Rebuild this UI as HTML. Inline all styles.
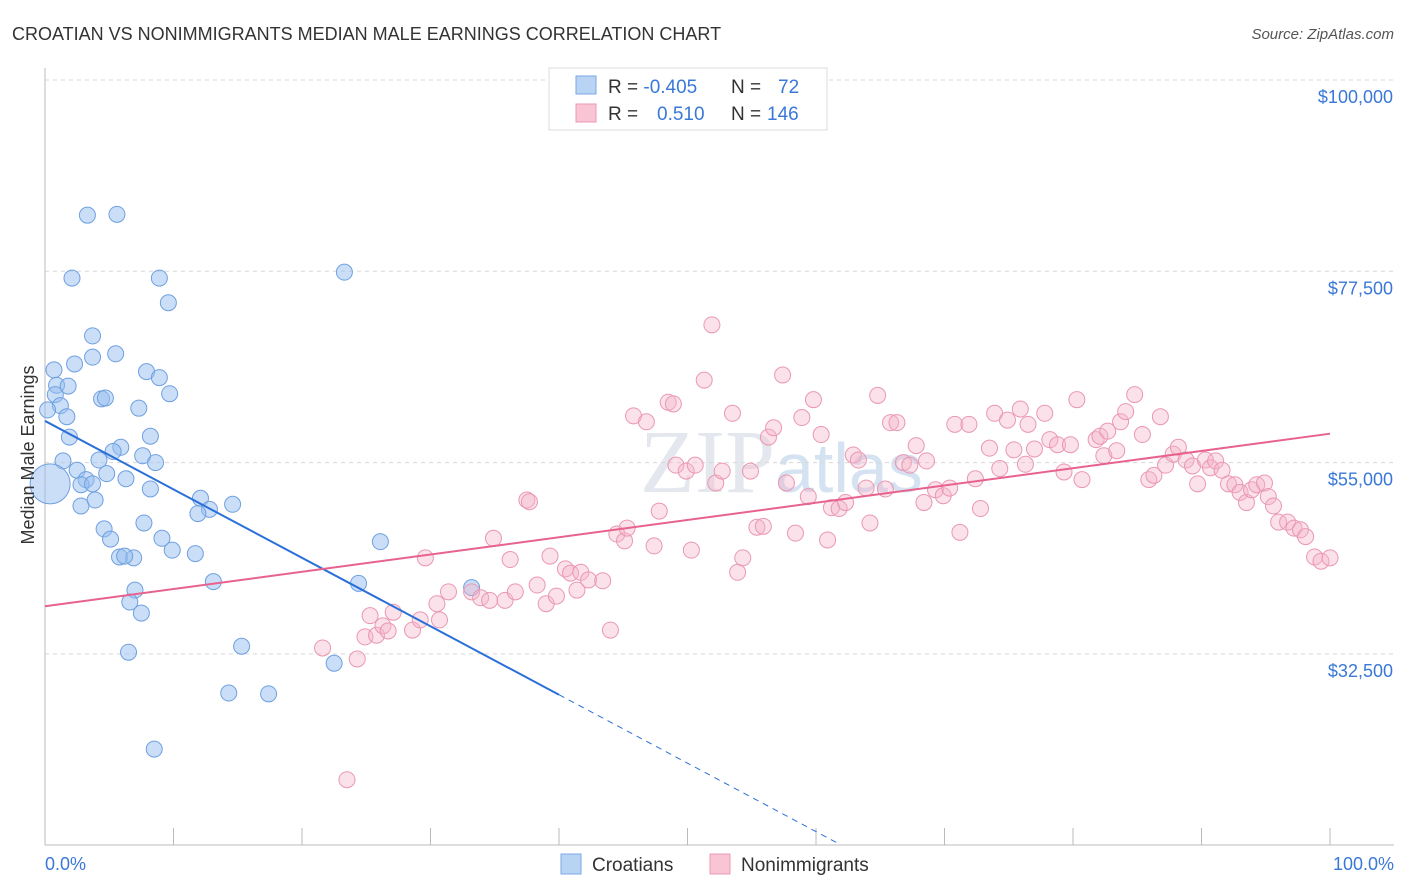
<!DOCTYPE html>
<html><head><meta charset="utf-8"><style>
body{margin:0;background:#fff;font-family:"Liberation Sans",sans-serif;}
svg{display:block}
</style></head><body>
<svg id="chart" width="1406" height="892">
<text x="12" y="40" font-size="18" fill="#333">CROATIAN VS NONIMMIGRANTS MEDIAN MALE EARNINGS CORRELATION CHART</text>
<text x="1394" y="39" font-size="15" fill="#555" text-anchor="end" font-style="italic">Source: ZipAtlas.com</text>
<text x="640" y="492" font-size="90" fill="#e4e8ee" font-family="Liberation Serif">ZIP<tspan font-size="70" font-family="Liberation Sans" fill="#d4e2f2">atlas</tspan></text>
<g id="grid"></g>
<g id="axes"></g>
<g id="pts"></g>
<g id="trend"></g>
<text transform="translate(34,455) rotate(-90)" font-size="18" fill="#333" text-anchor="middle">Median Male Earnings</text>
<text x="45" y="870" font-size="18" fill="#3a78d8">0.0%</text>
<text x="1394" y="870" font-size="18" fill="#3a78d8" text-anchor="end">100.0%</text>
<g>
<rect x="549" y="68" width="278" height="62" fill="#fff" stroke="#ddd"/>
<rect x="576" y="76" width="20" height="18" fill="#b8d3f4" stroke="#7aa8e4"/>
<rect x="576" y="104" width="20" height="18" fill="#f9c4d4" stroke="#ec9ab4"/>
<text x="608" y="93" font-size="19" fill="#333">R = <tspan fill="#3a78d8">-0.405</tspan><tspan x="731">N = </tspan><tspan x="778" fill="#3a78d8">72</tspan></text>
<text x="608" y="120" font-size="19" fill="#333">R = <tspan x="657" fill="#3a78d8">0.510</tspan><tspan x="731">N = </tspan><tspan x="767" fill="#3a78d8">146</tspan></text>
</g>
<g>
<rect x="561" y="854" width="20" height="20" fill="#b8d3f4" stroke="#7aa8e4"/>
<text x="592" y="871" font-size="19" fill="#333">Croatians</text>
<rect x="710" y="854" width="20" height="20" fill="#f9c4d4" stroke="#ec9ab4"/>
<text x="741" y="871" font-size="19" fill="#333">Nonimmigrants</text>
</g>
</svg>
<script>
const yTicks=[100000,77500,55000,32500];
const yTickLabels=["$100,000","$77,500","$55,000","$32,500"];
const blueX=[3.3,5.6,2.1,8.9,9.6,23.3,3.7,5.5,3.7,2.3,0.7,7.9,8.9,0.9,1.8,0.8,9.7,4.4,4.7,1.2,7.3,0.2,1.7,1.9,8.2,5.9,5.3,1.4,4.2,7.6,8.6,2.5,4.8,6.3,3.2,2.8,3.7,3.9,8.2,12.1,14.6,12.8,2.8,11.9,7.7,4.6,5.1,9.1,9.9,11.7,5.8,6.9,6.2,26.1,7.0,13.1,24.4,33.2,6.6,7.5,6.5,15.3,22.5,14.3,17.4,8.5];
const blueY=[84100,84200,76700,76700,73800,77400,69900,67800,67400,66600,65900,65700,65000,64100,64000,63000,63100,62500,62600,61700,61400,61200,60400,58000,58100,56800,56300,55200,55300,55800,55000,54100,53700,53100,53000,52400,52500,50600,51900,50800,50100,49500,49900,49000,47900,47200,46000,46100,44700,44300,43900,43800,44000,45700,40000,41000,40800,40300,38600,37300,32700,33400,31400,27900,27800,21300];
const pinkX=[21.6,24.3,23.5,24.9,25.8,25.3,26.3,26.7,27.1,28.6,29.2,30.7,30.5,31.4,29.6,33.2,33.9,34.9,34.6,35.8,36.2,36.6,37.5,37.7,38.3,39.0,39.3,39.8,40.5,40.9,41.4,41.7,42.3,43.4,44.0,44.5,45.1,45.3,45.8,46.8,47.4,47.8,48.5,48.9,49.1,49.9,50.6,50.3,51.3,51.9,52.2,52.7,53.5,53.9,54.3,54.9,55.4,55.9,56.3,56.7,57.4,57.7,58.4,58.9,59.4,59.8,60.4,60.9,61.2,61.8,62.3,62.9,63.3,63.9,64.2,64.8,65.4,65.8,66.3,66.8,67.3,67.8,68.6,68.4,69.3,69.9,70.4,70.8,71.2,71.9,72.4,72.8,73.5,73.9,74.3,74.9,75.4,75.9,76.3,76.5,77.0,77.8,78.2,78.8,79.3,79.8,80.3,80.7,81.8,82.1,82.7,82.4,83.4,83.7,84.1,84.8,85.4,85.9,86.3,86.8,87.2,87.8,88.2,88.8,89.3,89.7,90.3,90.7,91.1,91.6,92.1,92.6,93.0,93.5,93.9,94.3,94.9,95.2,95.6,96.0,96.7,97.2,97.7,98.1,98.8,99.3,100];
const pinkY=[33200,31900,17700,34500,34700,37000,35800,35200,37400,35300,36500,36500,38400,39800,43800,39800,39100,46100,38800,38800,43600,39800,50600,50400,40600,38400,44000,39300,42500,42000,40000,42100,41200,41100,35300,46600,45800,47300,60500,59800,45200,49300,62100,61900,54700,54000,54700,44700,64700,71200,52600,54000,60800,42100,43800,54000,47400,47500,58000,59100,65300,52600,46700,60300,51000,62400,58300,45900,49700,49600,50300,55900,55300,52000,47900,62900,51900,59700,59700,55000,54700,57000,55200,50300,51800,51100,52000,59500,46800,59500,53100,49600,56700,60800,54300,60000,56500,61300,54800,59500,56600,60800,57700,57100,53900,57100,62400,53000,57700,58100,58700,55800,56400,59800,61000,63000,58300,53000,53500,60400,54700,56000,56800,55300,54600,52500,55300,54400,55200,54100,52500,52400,51500,50300,51800,52400,52600,51000,49900,48000,48000,47300,47100,46300,43900,43400,43800];
const blueTrend=[[0,59900],[40,27700],[61.9,10070]];
const pinkTrend=[[0,38100],[100,58400]];
const NS="http://www.w3.org/2000/svg";
const xs=v=>45+v*12.85, ys=v=>80+(100000-v)/22500*191.3;
function mk(tag,attrs,parent){const e=document.createElementNS(NS,tag);for(const k in attrs)e.setAttribute(k,attrs[k]);parent.appendChild(e);return e;}
const grid=document.getElementById('grid'),axes=document.getElementById('axes'),pts=document.getElementById('pts'),tr=document.getElementById('trend');
yTicks.forEach((t,i)=>{const l=mk('line',{x1:45,x2:1394,y1:ys(t),y2:ys(t),stroke:'#d8d8d8','stroke-dasharray':'4,4'},grid);


const tx=mk('text',{x:1393,y:ys(t)+23,'font-size':18,fill:'#3a78d8','text-anchor':'end'},grid);tx.textContent=yTickLabels[i];

});
mk('line',{x1:45,x2:45,y1:68,y2:845,stroke:'#bbb'},axes);
mk('line',{x1:45,x2:1394,y1:845,y2:845,stroke:'#bbb'},axes);
for(let i=0;i<=10;i++){const t=mk('line',{x1:xs(i*10),x2:xs(i*10),y1:828,y2:845,stroke:'#bbb'},axes);

}
blueX.forEach((x,i)=>{const c=mk('circle',{cx:xs(x),cy:ys(blueY[i]),r:8,fill:'rgba(150,190,240,0.5)',stroke:'#6fa0e0','stroke-width':1},pts);

});
const big=mk('circle',{cx:xs(0.4),cy:ys(52500),r:20,fill:'rgba(150,190,240,0.5)',stroke:'#6fa0e0'},pts);


pinkX.forEach((x,i)=>{const c=mk('circle',{cx:xs(x),cy:ys(pinkY[i]),r:8,fill:'rgba(245,180,200,0.4)',stroke:'#ea98b2','stroke-width':1},pts);

});
const b1=mk('line',{x1:xs(blueTrend[0][0]),y1:ys(blueTrend[0][1]),x2:xs(blueTrend[1][0]),y2:ys(blueTrend[1][1]),stroke:'#2a70d8','stroke-width':2},tr);


const b2=mk('line',{x1:xs(blueTrend[1][0]),y1:ys(blueTrend[1][1]),x2:xs(blueTrend[2][0]),y2:ys(blueTrend[2][1]),stroke:'#2a70d8','stroke-width':1,'stroke-dasharray':'6,5'},tr);


const p1=mk('line',{x1:xs(pinkTrend[0][0]),y1:ys(pinkTrend[0][1]),x2:xs(pinkTrend[1][0]),y2:ys(pinkTrend[1][1]),stroke:'#e8628e','stroke-width':2},tr);


</script>
</body></html>
